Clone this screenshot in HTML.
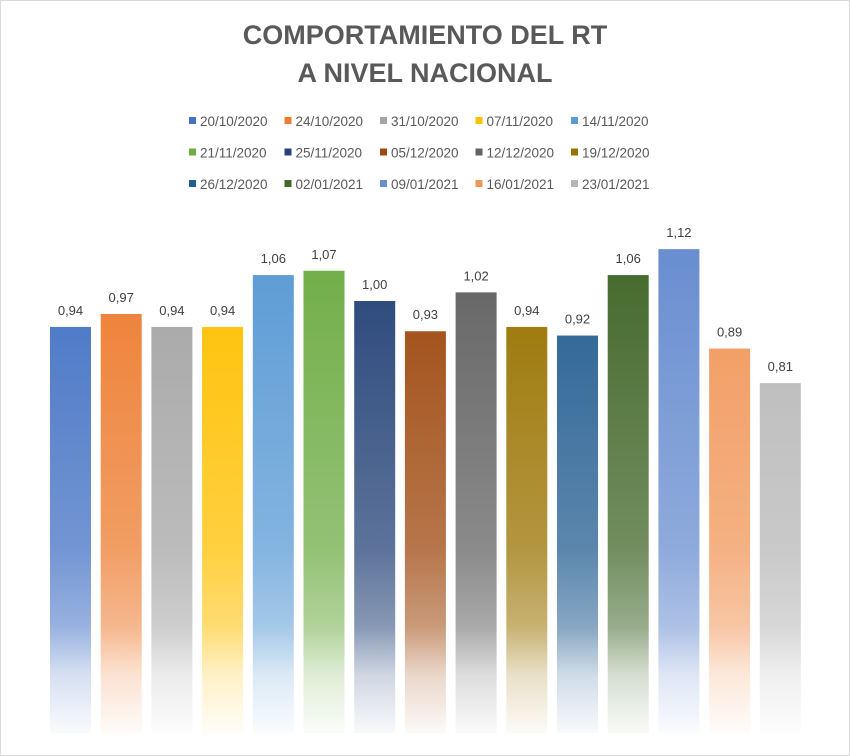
<!DOCTYPE html>
<html><head><meta charset="utf-8"><style>
html,body{margin:0;padding:0;background:#fff}
svg{display:block;font-family:"Liberation Sans",sans-serif}
</style></head><body>
<svg id="c" width="850" height="756" xmlns="http://www.w3.org/2000/svg">
<rect x="0.5" y="0.5" width="849" height="755" fill="#fff" stroke="#d9d9d9"/>
<text x="425" y="44" text-anchor="middle" font-size="27" font-weight="bold" fill="#595959">COMPORTAMIENTO DEL RT</text>
<text x="425" y="82" text-anchor="middle" font-size="27" font-weight="bold" fill="#595959">A NIVEL NACIONAL</text>
<defs id="defs"></defs>
<g id="legend"></g>
<g id="bars"></g>
</svg>
<script>
const categories=["20/10/2020","24/10/2020","31/10/2020","07/11/2020","14/11/2020","21/11/2020","25/11/2020","05/12/2020","12/12/2020","19/12/2020","26/12/2020","02/01/2021","09/01/2021","16/01/2021","23/01/2021"];
const values=[0.94,0.97,0.94,0.94,1.06,1.07,1.00,0.93,1.02,0.94,0.92,1.06,1.12,0.89,0.81];
const labels=["0,94","0,97","0,94","0,94","1,06","1,07","1,00","0,93","1,02","0,94","0,92","1,06","1,12","0,89","0,81"];
const colors=["#4472C4","#ED7D31","#A5A5A5","#FFC000","#5B9BD5","#70AD47","#264478","#9E480E","#636363","#997300","#255E91","#43682B","#698ED0","#F1975A","#B7B7B7"];
const NS="http://www.w3.org/2000/svg";
const baseY=733, pxPerUnit=432, x0=50, step=50.7, bw=41;
const yScale=v=>baseY-v*pxPerUnit;
const xScale=i=>x0+i*step;
const defs=document.getElementById('defs'),gb=document.getElementById('bars'),gl=document.getElementById('legend');
categories.forEach((cat,i)=>{
  const g=document.createElementNS(NS,'linearGradient');
  g.setAttribute('id','g'+i);g.setAttribute('gradientUnits','userSpaceOnUse');
  g.setAttribute('x1',0);g.setAttribute('x2',0);g.setAttribute('y1',250);g.setAttribute('y2',baseY);
  [[0,1],[0.62,0.75],[0.78,0.55],[0.88,0.22],[1,0.03]].forEach(([o,a])=>{
    const s=document.createElementNS(NS,'stop');s.setAttribute('offset',o);s.setAttribute('stop-color',colors[i]);s.setAttribute('stop-opacity',a);g.appendChild(s);});
  defs.appendChild(g);
  const y=yScale(values[i]);
  const r=document.createElementNS(NS,'rect');
  
  
  r.setAttribute('x',xScale(i));r.setAttribute('y',y);r.setAttribute('width',bw);r.setAttribute('height',baseY-y);
  r.setAttribute('fill','url(#g'+i+')');gb.appendChild(r);
  const t=document.createElementNS(NS,'text');
  
  
  t.setAttribute('x',xScale(i)+bw/2);t.setAttribute('y',y-12);t.setAttribute('text-anchor','middle');
  t.setAttribute('font-size','13');t.setAttribute('fill','#404040');t.textContent=labels[i];gb.appendChild(t);
  const row=Math.floor(i/5),col=i%5;
  const lx=189+col*95.5,ly=121+row*31.5;
  const m=document.createElementNS(NS,'rect');
  
  
  m.setAttribute('x',lx);m.setAttribute('y',ly-4);m.setAttribute('width',7);m.setAttribute('height',7);m.setAttribute('fill',colors[i]);gl.appendChild(m);
  const lt=document.createElementNS(NS,'text');
  
  
  lt.setAttribute('x',lx+11);lt.setAttribute('y',ly+5);lt.setAttribute('font-size','13.5');lt.setAttribute('fill','#595959');lt.textContent=cat;gl.appendChild(lt);
});
</script>
</body></html>
